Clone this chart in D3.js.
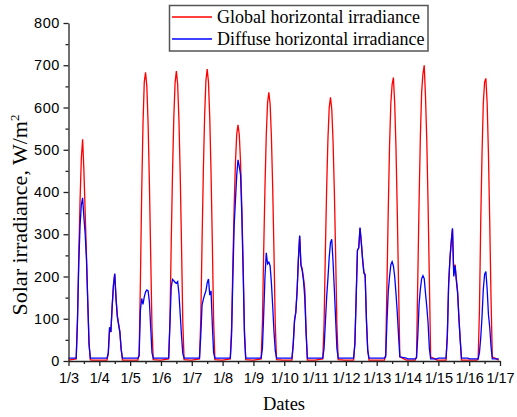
<!DOCTYPE html>
<html>
<head>
<meta charset="utf-8">
<script src="https://cdn.jsdelivr.net/npm/d3@7"></script>
<style>
  body { margin: 0; background: #fff; }
  .tick text { font-family: "Liberation Sans", Arial, sans-serif; fill: #000; }
</style>
</head>
<body>
<svg id="chart" width="517" height="417"></svg>
<script>
// tick labels for the x axis (one per day boundary)
var dates = ['1/3', '1/4', '1/5', '1/6', '1/7', '1/8', '1/9', '1/10', '1/11', '1/12', '1/13', '1/14', '1/15', '1/16', '1/17'];
// hour of day for each reading in a day row
var hours = [0, 6, 7, 8, 9, 10, 11, 12, 13, 14, 15, 16, 17, 18, 23];
var yTicks = [0, 100, 200, 300, 400, 500, 600, 700, 800];

// global horizontal irradiance, W/m2, one row per day
var globalIrr = [
  [2, 5, 100, 250, 380, 480, 525, 450, 350, 250, 140, 40, 3, 2, 2],
  [2, 2, 18, 78, 68, 128, 178, 205, 150, 108, 88, 70, 28, 2, 2],
  [2, 2, 15, 190, 400, 560, 660, 683, 650, 560, 420, 250, 80, 3, 2],
  [2, 5, 96, 281, 446, 576, 659, 686, 655, 570, 440, 275, 92, 3, 2],
  [2, 5, 97, 283, 449, 580, 663, 691, 660, 575, 445, 280, 95, 3, 2],
  [2, 5, 80, 232, 365, 470, 537, 559, 535, 468, 360, 228, 76, 3, 2],
  [2, 5, 89, 261, 413, 534, 611, 636, 608, 530, 410, 258, 88, 3, 2],
  [2, 2, 40, 95, 116, 166, 240, 295, 228, 218, 196, 170, 75, 2, 2],
  [2, 5, 87, 256, 406, 524, 599, 624, 596, 520, 403, 254, 86, 3, 2],
  [2, 2, 42, 152, 262, 268, 314, 282, 242, 212, 200, 100, 26, 2, 2],
  [2, 2, 15, 185, 360, 510, 610, 655, 671, 610, 505, 355, 180, 10, 2],
  [2, 2, 10, 196, 378, 532, 637, 680, 700, 625, 520, 370, 190, 10, 2],
  [2, 2, 62, 182, 242, 282, 312, 205, 228, 195, 165, 105, 52, 2, 2],
  [2, 2, 5, 120, 330, 490, 610, 660, 669, 610, 490, 330, 150, 10, 2]
];

// diffuse horizontal irradiance, W/m2
var diffuseIrr = [
  [7, 7, 95, 230, 320, 370, 386, 340, 300, 240, 140, 40, 7, 7, 7],
  [7, 7, 20, 80, 69, 130, 180, 207, 148, 105, 86, 68, 28, 7, 7],
  [7, 7, 12, 120, 148, 134, 152, 163, 168, 166, 140, 80, 20, 7, 7],
  [7, 7, 88, 175, 193, 190, 186, 184, 188, 160, 110, 60, 18, 7, 7],
  [7, 7, 60, 132, 146, 157, 166, 185, 194, 156, 166, 85, 20, 7, 7],
  [7, 7, 62, 200, 320, 380, 440, 476, 460, 440, 340, 210, 62, 7, 7],
  [7, 7, 30, 110, 200, 256, 230, 234, 225, 185, 130, 70, 25, 7, 7],
  [7, 7, 40, 96, 115, 165, 240, 297, 226, 214, 190, 150, 65, 7, 7],
  [7, 7, 30, 90, 150, 195, 245, 280, 288, 235, 170, 100, 30, 7, 7],
  [7, 7, 40, 150, 262, 268, 316, 280, 240, 208, 205, 95, 25, 7, 7],
  [7, 7, 10, 95, 165, 200, 228, 235, 225, 200, 160, 115, 60, 10, 7],
  [5, 5, 8, 60, 135, 170, 195, 202, 195, 160, 128, 90, 30, 5, 5],
  [7, 7, 60, 180, 240, 280, 314, 200, 226, 190, 160, 100, 50, 7, 7],
  [5, 5, 5, 20, 55, 105, 170, 205, 212, 170, 110, 80, 35, 5, 5]
];

var svg = d3.select('#chart');

var x = d3.scaleLinear().domain([0, 14]).range([68.5, 500]);
var y = d3.scaleLinear().domain([0, 800]).range([361, 23]);

function toPoints(rows) {
  var pts = [];
  rows.forEach(function(row, day) {
    row.forEach(function(v, i) {
      pts.push({ t: day + hours[i] / 24, v: v });
    });
  });
  return pts;
}

var line = d3.line()
  .x(function(d) { return x(d.t); })
  .y(function(d) { return y(d.v); });

svg.append('path')
  .datum(toPoints(globalIrr))
  .attr('fill', 'none')
  .attr('stroke', '#ff0000')
  .attr('stroke-width', 1.3)
  .attr('d', line);

svg.append('path')
  .datum(toPoints(diffuseIrr))
  .attr('fill', 'none')
  .attr('stroke', '#0000ff')
  .attr('stroke-width', 1.3)
  .attr('d', line);

// axes
var xAxis = svg.append('g')
  .attr('transform', 'translate(0,361)')
  .call(d3.axisBottom(x)
    .tickValues(d3.range(0, 15))
    .tickFormat(function(i) { return dates[i]; })
    .tickSize(5)
    .tickSizeOuter(0)
    .tickPadding(7));
xAxis.selectAll('.tick text').style('font-size', '14.5px');

svg.append('g')
  .attr('transform', 'translate(0,361)')
  .call(d3.axisBottom(x)
    .tickValues(d3.range(0.5, 14, 1))
    .tickFormat('')
    .tickSize(3))
  .select('.domain').remove();

var yAxis = svg.append('g')
  .attr('transform', 'translate(68.5,0)')
  .call(d3.axisLeft(y)
    .tickValues(yTicks)
    .tickSize(5)
    .tickSizeOuter(0)
    .tickPadding(3.5));
yAxis.selectAll('.tick text').style('font-size', '14.5px').style('letter-spacing', '0.6px');

svg.append('g')
  .attr('transform', 'translate(68.5,0)')
  .call(d3.axisLeft(y)
    .tickValues(d3.range(50, 800, 100))
    .tickFormat('')
    .tickSize(3))
  .select('.domain').remove();

svg.selectAll('.domain, .tick line')
  .attr('stroke', '#222')
  .attr('stroke-width', 1.3);

// axis titles
svg.append('text')
  .attr('x', 284)
  .attr('y', 410)
  .attr('text-anchor', 'middle')
  .style('font-family', '"Liberation Serif", "Times New Roman", serif')
  .style('font-size', '18.5px')
  .text('Dates');

var yTitle = svg.append('text')
  .attr('transform', 'translate(26.5,215) rotate(-90)')
  .attr('text-anchor', 'middle')
  .style('font-family', '"Liberation Serif", "Times New Roman", serif')
  .style('font-size', '22px');
yTitle.append('tspan').text('Solar irradiance, W/m');
yTitle.append('tspan')
  .attr('dy', '-0.55em')
  .style('font-size', '13px')
  .text('2');

// legend
var legend = svg.append('g');
legend.append('rect')
  .attr('x', 169.5)
  .attr('y', 5.5)
  .attr('width', 258.5)
  .attr('height', 45.5)
  .attr('fill', '#fff')
  .attr('stroke', '#555')
  .attr('stroke-width', 1.5);

var legendItems = [
  { name: 'Global horizontal irradiance', color: '#ff0000' },
  { name: 'Diffuse horizontal irradiance', color: '#0000ff' }
];

var item = legend.selectAll('g.item')
    .data(legendItems)
  .enter().append('g')
    .attr('class', 'item')
    .attr('transform', function(d, i) { return 'translate(0,' + (17 + i * 22) + ')'; });

item.append('line')
  .attr('x1', 172)
  .attr('x2', 212)
  .attr('stroke', function(d) { return d.color; })
  .attr('stroke-width', 1.3);

item.append('text')
  .attr('x', 217)
  .attr('y', 6.3)
  .style('font-family', '"Liberation Serif", "Times New Roman", serif')
  .style('font-size', '18px')
  .text(function(d) { return d.name; });
</script>
</body>
</html>
